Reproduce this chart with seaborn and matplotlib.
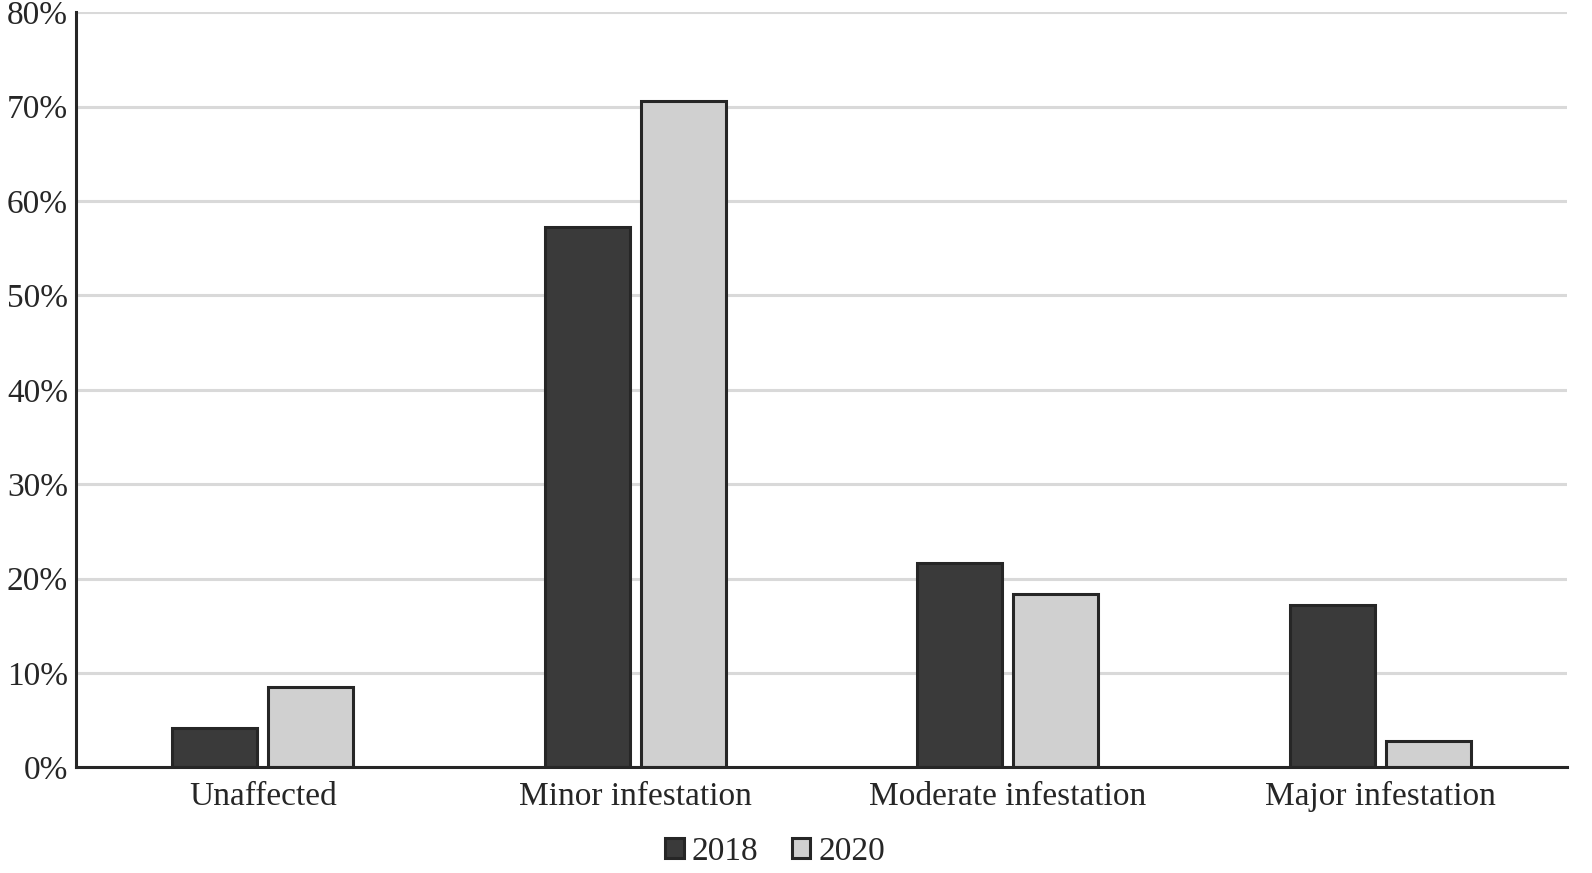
import pandas as pd
import matplotlib
matplotlib.use("Agg")
import matplotlib.pyplot as plt
import seaborn as sns
from matplotlib.ticker import PercentFormatter

categories = ["Unaffected", "Minor infestation", "Moderate infestation", "Major infestation"]
years = ["2018", "2020"]
values_2018 = [4.2, 57.2, 21.6, 17.2]
values_2020 = [8.5, 70.6, 18.4, 2.8]

df = pd.DataFrame({
    "Category": categories * 2,
    "Year": [years[0]] * 4 + [years[1]] * 4,
    "Share": values_2018 + values_2020,
})

sns.set_style("white")
plt.rcParams["font.family"] = ["Liberation Serif", "DejaVu Serif"]

fig, ax = plt.subplots(figsize=(15.92, 8.73), dpi=100)
sns.barplot(
    data=df, x="Category", y="Share", hue="Year",
    palette={"2018": "#3a3a3a", "2020": "#d0d0d0"},
    width=0.515, gap=0.115, edgecolor="#262626", linewidth=2.2,
    ax=ax,
)

ax.set_ylim(0, 80)
ax.set_yticks(range(0, 81, 10))
ax.yaxis.set_major_formatter(PercentFormatter(decimals=0))
ax.yaxis.grid(True, color="#d9d9d9", linewidth=2.2)
ax.set_axisbelow(True)
ax.set_xlabel("")
ax.set_ylabel("")
ax.tick_params(axis="both", length=0, labelsize=24)
ax.tick_params(axis="y", pad=6)
ax.tick_params(axis="x", pad=10)
for side in ["top", "right"]:
    ax.spines[side].set_visible(False)
for side in ["left", "bottom"]:
    ax.spines[side].set_color("#262626")
    ax.spines[side].set_linewidth(2.2)

handles, labels = ax.get_legend_handles_labels()
ax.get_legend().remove()
fig.legend(
    handles, labels, loc="lower center", bbox_to_anchor=(0.487, -0.027), ncol=2,
    frameon=False, fontsize=24, handlelength=0.55, handleheight=0.55,
    handletextpad=0.25, columnspacing=1.0,
)

fig.subplots_adjust(left=0.048, right=0.984, top=0.986, bottom=0.121)
fig.savefig("out.png", dpi=100)
